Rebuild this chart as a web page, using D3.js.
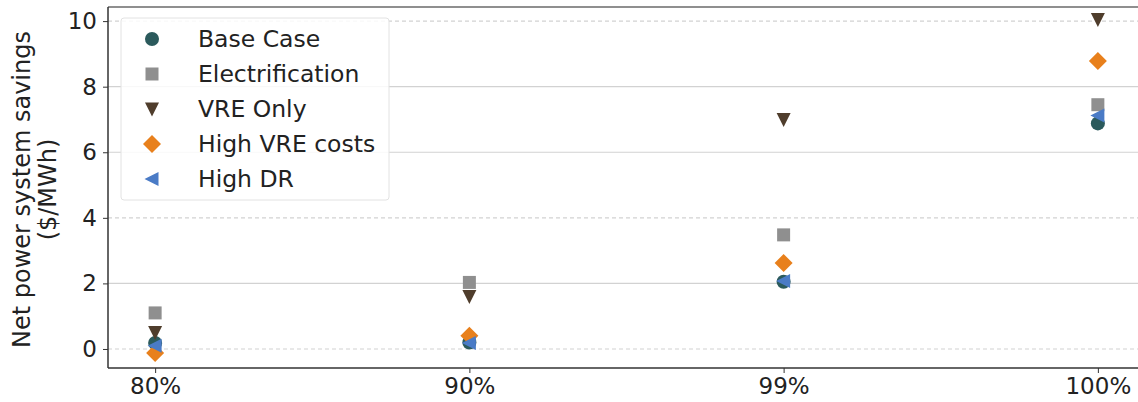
<!DOCTYPE html>
<html>
<head>
<meta charset="utf-8">
<script src="https://cdn.jsdelivr.net/npm/d3@7"></script>
<style>
  html, body { margin: 0; padding: 0; background: #fff; }
  svg { display: block; font-family: "DejaVu Sans", sans-serif; }
</style>
</head>
<body>
<svg id="chart" width="1138" height="402"></svg>
<script>
// Renewable penetration targets on the x axis
const categories = ["80%", "90%", "99%", "100%"];

// Net power system savings ($/MWh) per scenario
const baseCase        = [0.18, 0.2, 2.05, 6.88];
const electrification = [1.1, 2.03, 3.48, 7.45];
const vreOnly         = [0.5, 1.6, 7.0, 10.05];
const highVreCosts    = [-0.12, 0.4, 2.62, 8.78];
const highDR          = [0.1, 0.18, 2.07, 7.12];

const seriesNames = ["Base Case", "Electrification", "VRE Only", "High VRE costs", "High DR"];
const yTicks = [0, 2, 4, 6, 8, 10];

const series = [
  { name: seriesNames[0], values: baseCase,        color: "#2b5a5c", shape: "circle" },
  { name: seriesNames[1], values: electrification, color: "#8f8f8f", shape: "square" },
  { name: seriesNames[2], values: vreOnly,         color: "#4f3d2c", shape: "triDown" },
  { name: seriesNames[3], values: highVreCosts,    color: "#e8801c", shape: "diamond" },
  { name: seriesNames[4], values: highDR,          color: "#4a7bc6", shape: "triLeft" }
];

const svg = d3.select("#chart");
const plot = { left: 108, right: 1145, top: 7, bottom: 368 };
const tickFont = "23px";
const legendFont = "23.5px";

const x = d3.scalePoint().domain(categories).range([plot.left, plot.right]).padding(0.15);
const y = d3.scaleLinear().domain([-0.58, 10.43]).range([plot.bottom, plot.top]);

// Marker path generator (matplotlib-like shapes)
function markerPath(shape) {
  switch (shape) {
    case "circle":  return d3.symbol(d3.symbolCircle, 155)();
    case "square":  return "M-6.5,-6.5H6.5V6.5H-6.5Z";
    case "triDown": return "M-7,-6.5L7,-6.5L0,7.5Z";
    case "diamond": return "M0,-9L9,0L0,9L-9,0Z";
    case "triLeft": return "M-7.5,0L6.5,-7L6.5,7Z";
  }
}

// Horizontal grid lines
const gridDashed = new Set([0, 4, 10]);
svg.append("g").selectAll("line").data(yTicks).join("line")
  .attr("x1", plot.left).attr("x2", plot.right)
  .attr("y1", d => y(d)).attr("y2", d => y(d))
  .attr("stroke", "#d2d2d2")
  .attr("stroke-width", 1.2)
  .attr("stroke-dasharray", d => gridDashed.has(d) ? "4,3" : null);

// Top frame line
svg.append("line")
  .attr("x1", plot.left).attr("x2", plot.right)
  .attr("y1", plot.top).attr("y2", plot.top)
  .attr("stroke", "#6a6a6a").attr("stroke-width", 1.5);

// Axes
const yAxis = svg.append("g")
  .attr("transform", `translate(${plot.left},0)`)
  .call(d3.axisLeft(y).tickValues(yTicks).tickSize(5).tickPadding(6).tickFormat(d3.format("d")));
const xAxis = svg.append("g")
  .attr("transform", `translate(0,${plot.bottom})`)
  .call(d3.axisBottom(x).tickSize(5).tickPadding(5));

[yAxis, xAxis].forEach(g => {
  g.select(".domain").attr("stroke", "#333").attr("stroke-width", 1.5);
  g.selectAll(".tick line").attr("stroke", "#333").attr("stroke-width", 1);
  g.selectAll(".tick text").attr("fill", "#222").style("font-size", tickFont)
    .style("font-family", "DejaVu Sans, sans-serif");
});
// extend the spines through the full plot area
yAxis.select(".domain").attr("d", `M0,${plot.top}V${plot.bottom}`);
xAxis.select(".domain").attr("d", `M${plot.left},0H${plot.right}`);

// Y axis title (two lines)
const yTitle = svg.append("text")
  .attr("transform", `translate(30,${(plot.top + plot.bottom) / 2 + 2}) rotate(-90)`)
  .attr("text-anchor", "middle")
  .attr("fill", "#222")
  .style("font-size", "24px");
yTitle.append("tspan").attr("x", 0).attr("dy", 0).text("Net power system savings");
yTitle.append("tspan").attr("x", 0).attr("dy", 26).text("($/MWh)");

// Scatter markers
const marks = svg.append("g");
series.forEach(s => {
  marks.append("g").selectAll("path")
    .data(s.values.map((v, i) => ({ c: categories[i], v })))
    .join("path")
    .attr("d", markerPath(s.shape))
    .attr("transform", d => `translate(${x(d.c)},${y(d.v)})`)
    .attr("fill", s.color);
});

// Legend
const legend = svg.append("g").attr("transform", "translate(121,18)");
legend.append("rect")
  .attr("width", 268).attr("height", 182).attr("rx", 3)
  .attr("fill", "#fff").attr("fill-opacity", 0.85)
  .attr("stroke", "#e2e2e2");
series.forEach((s, i) => {
  const row = legend.append("g").attr("transform", `translate(0,${21 + i * 35})`);
  row.append("path").attr("d", markerPath(s.shape))
    .attr("transform", "translate(31,0)").attr("fill", s.color);
  row.append("text").attr("x", 77).attr("y", 8)
    .attr("fill", "#222").style("font-size", legendFont).text(s.name);
});
</script>
</body>
</html>
